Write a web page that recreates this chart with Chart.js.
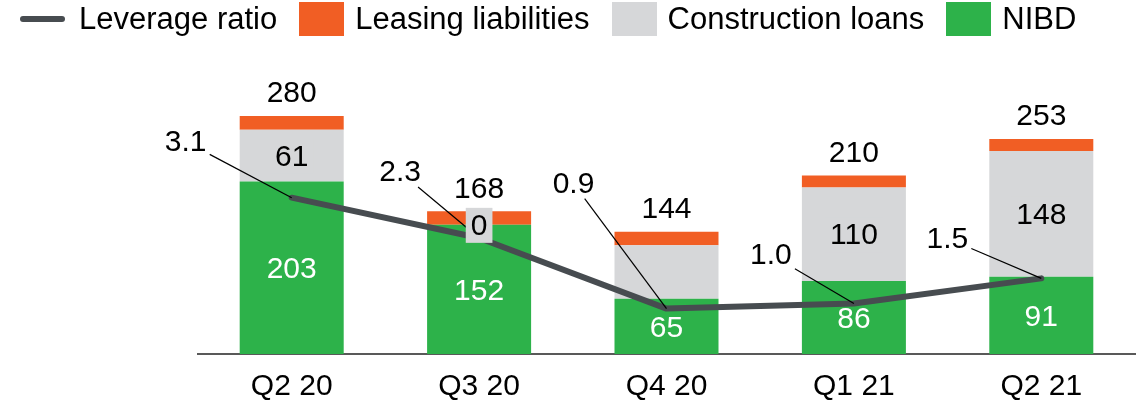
<!DOCTYPE html>
<html>
<head>
<meta charset="utf-8">
<script src="https://cdn.jsdelivr.net/npm/chart.js@4.4.1/dist/chart.umd.min.js"></script>
<style>
  body { margin: 0; background: #fff; font-family: "Liberation Sans", Arial, sans-serif; }
  #wrap { position: relative; width: 1143px; height: 404px; }
  #legend { position: absolute; left: 20px; top: 2px; height: 34px; display: flex; align-items: center; font-size: 31px; color: #000; }
  .item { display: flex; align-items: center; margin-right: 22px; }
  .swatch { width: 45px; height: 34px; margin-right: 11px; }
  .dash { width: 45px; height: 6px; border-radius: 3px; margin-right: 14px; }
</style>
</head>
<body>
<div id="wrap">
  <canvas id="debtChart"></canvas>
  <div id="legend"></div>
</div>
<script>
const quarters = ['Q2 20', 'Q3 20', 'Q4 20', 'Q1 21', 'Q2 21'];
const nibd = [203, 152, 65, 86, 91];
const constructionLoans = [61, 0, 63, 110, 148];
const leasingLiabilities = [16, 16, 16, 14, 14];
const leverageRatio = [3.1, 2.3, 0.9, 1.0, 1.5];
// Q4 20 construction segment carries no label in the original
const showConstructionLabel = [true, true, false, true, true];

const colors = {
  line: '#474c50',
  leasing: '#f15e24',
  construction: '#d6d7d9',
  nibd: '#2db24a'
};

// where each leverage label sits relative to its point
const leverageLabelOffsets = [[-106, -56], [-79, -66], [-93, -125], [-83, -49], [-94, -40]];

const FONT = '30px "Liberation Sans", Arial, sans-serif';

// legend
const legendItems = [
  { text: 'Leverage ratio', color: colors.line, line: true },
  { text: 'Leasing liabilities', color: colors.leasing },
  { text: 'Construction loans', color: colors.construction },
  { text: 'NIBD', color: colors.nibd }
];
const legendEl = document.getElementById('legend');
legendItems.forEach(it => {
  const d = document.createElement('div');
  d.className = 'item';
  const s = document.createElement('span');
  s.className = it.line ? 'dash' : 'swatch';
  s.style.background = it.color;
  d.appendChild(s);
  d.appendChild(document.createTextNode(it.text));
  legendEl.appendChild(d);
});

const labelPlugin = {
  id: 'valueLabels',
  afterDatasetsDraw(chart) {
    const ctx = chart.ctx;
    const lineMeta = chart.getDatasetMeta(0);
    const nibdMeta = chart.getDatasetMeta(1);
    const consMeta = chart.getDatasetMeta(2);
    const leaseMeta = chart.getDatasetMeta(3);
    ctx.save();
    ctx.font = FONT;
    ctx.textAlign = 'center';
    ctx.textBaseline = 'middle';

    // leverage labels with leader lines
    lineMeta.data.forEach((pt, i) => {
      const [dx, dy] = leverageLabelOffsets[i];
      const lx = pt.x + dx, ly = pt.y + dy;
      const vx = -dx, vy = -dy;
      const t = Math.min(24 / Math.abs(vx), 15 / Math.abs(vy));
      ctx.beginPath();
      ctx.strokeStyle = '#000';
      ctx.lineWidth = 1.2;
      ctx.moveTo(lx + vx * t, ly + vy * t);
      ctx.lineTo(pt.x, pt.y);
      ctx.stroke();
      ctx.fillStyle = '#000';
      ctx.fillText(leverageRatio[i].toFixed(1), lx, ly + 1);
    });

    // NIBD values in white
    ctx.fillStyle = '#fff';
    nibdMeta.data.forEach((bar, i) => {
      ctx.fillText(String(nibd[i]), bar.x, (bar.y + bar.base) / 2 + 2);
    });

    // construction loan values on grey tags
    consMeta.data.forEach((bar, i) => {
      if (!showConstructionLabel[i]) return;
      const txt = String(constructionLoans[i]);
      const w = ctx.measureText(txt).width + 10;
      const cy = (bar.y + bar.base) / 2;
      ctx.fillStyle = colors.construction;
      ctx.fillRect(bar.x - w / 2, cy - 17, w, 35);
      ctx.fillStyle = '#000';
      ctx.fillText(txt, bar.x, cy + 2);
    });

    // totals above the stacks
    ctx.fillStyle = '#000';
    leaseMeta.data.forEach((bar, i) => {
      const total = nibd[i] + constructionLoans[i] + leasingLiabilities[i];
      ctx.fillText(String(total), bar.x, bar.y - 22);
    });
    ctx.restore();
  }
};

const barDefaults = { type: 'bar', yAxisID: 'y', order: 1, barPercentage: 0.555, categoryPercentage: 1, borderWidth: 0 };

new Chart(document.getElementById('debtChart'), {
  data: {
    labels: quarters,
    datasets: [
      {
        type: 'line',
        label: 'Leverage ratio',
        data: leverageRatio,
        yAxisID: 'y1',
        order: 0,
        borderColor: colors.line,
        borderWidth: 6,
        borderCapStyle: 'round',
        borderJoinStyle: 'round',
        pointRadius: 0,
        tension: 0
      },
      { ...barDefaults, label: 'NIBD', data: nibd, backgroundColor: colors.nibd },
      { ...barDefaults, label: 'Construction loans', data: constructionLoans, backgroundColor: colors.construction },
      { ...barDefaults, label: 'Leasing liabilities', data: leasingLiabilities, backgroundColor: colors.leasing }
    ]
  },
  options: {
    responsive: true,
    maintainAspectRatio: false,
    animation: false,
    layout: { padding: { left: 198, right: 8, top: 60, bottom: -16 } },
    plugins: { legend: { display: false }, tooltip: { enabled: false } },
    scales: {
      x: {
        stacked: true,
        grid: { display: false, drawTicks: false },
        border: { display: true, color: '#595959', width: 2 },
        ticks: { color: '#000', padding: 15, font: { size: 30, family: '"Liberation Sans", Arial, sans-serif' } }
      },
      y: { stacked: true, display: false, min: 0, max: 346 },
      y1: { display: false, min: 0, max: 5.83 }
    }
  },
  plugins: [labelPlugin]
});
</script>
</body>
</html>
